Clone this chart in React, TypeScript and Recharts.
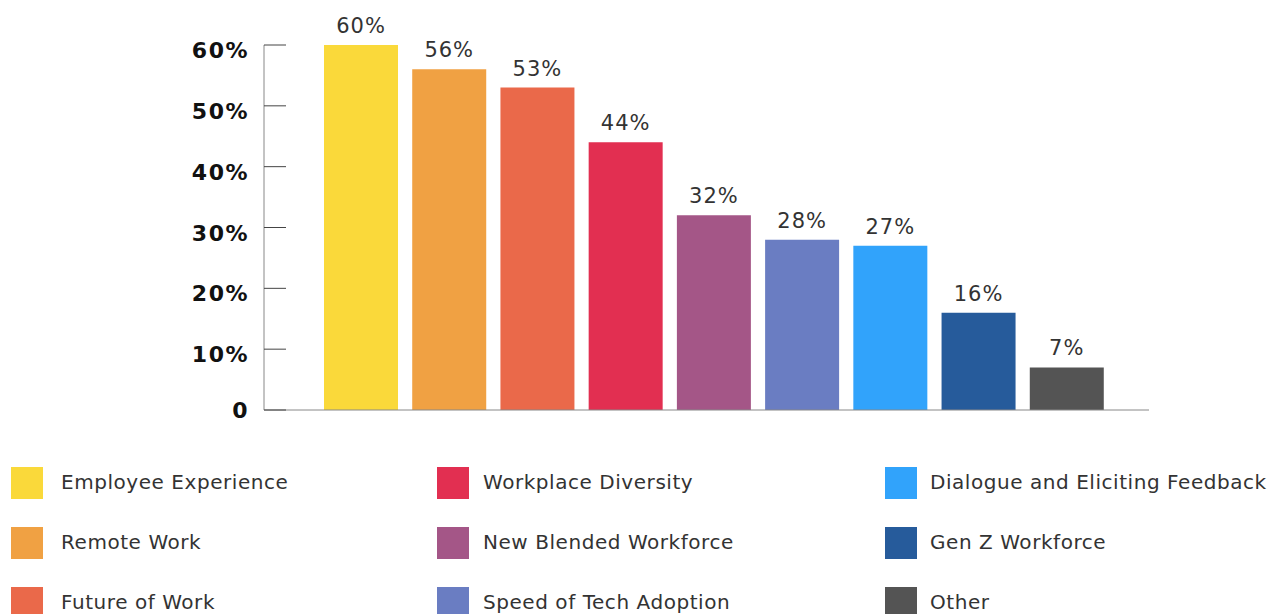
import { Bar, BarChart, Cell, LabelList, XAxis, YAxis } from 'recharts';

const categories = [
  'Employee Experience',
  'Remote Work',
  'Future of Work',
  'Workplace Diversity',
  'New Blended Workforce',
  'Speed of Tech Adoption',
  'Dialogue and Eliciting Feedback',
  'Gen Z Workforce',
  'Other',
];
const values = [60, 56, 53, 44, 32, 28, 27, 16, 7];
const colors = [
  '#FAD93A',
  '#F0A143',
  '#EA694A',
  '#E22F51',
  '#A45687',
  '#6A7DC2',
  '#31A3FB',
  '#265B9B',
  '#545454',
];
const yTicks = [0, 10, 20, 30, 40, 50, 60];
const yTickLabels = ['0', '10%', '20%', '30%', '40%', '50%', '60%'];

const data = categories.map((name, i) => ({ name, value: values[i] }));

const FONT = '"DejaVu Sans", sans-serif';

const YTick = (props: any) => {
  const { x, y, payload } = props;
  const idx = yTicks.indexOf(payload.value);
  return (
    <g>
      <line x1={x} x2={x + 22} y1={y} y2={y} stroke='#444' strokeWidth={1} />
      <text
        x={x - 15}
        y={y}
        dy={payload.value === 0 ? 8 : 13}
        textAnchor='end'
        fontFamily={FONT}
        fontWeight={700}
        fontSize={22}
        letterSpacing={1.5}
        fill='#111'
      >
        {yTickLabels[idx]}
      </text>
    </g>
  );
};

// legend laid out column by column, three rows each
const legendColumns = [
  { box: 11, text: 61, items: [0, 1, 2] },
  { box: 437, text: 483, items: [3, 4, 5] },
  { box: 885, text: 930, items: [6, 7, 8] },
];

export default function App() {
  return (
    <div
      style={{
        position: 'absolute',
        left: 0,
        top: 0,
        width: 1273,
        height: 614,
        background: '#fff',
        overflow: 'hidden',
      }}
    >
      <BarChart
        width={1273}
        height={440}
        data={data}
        margin={{ top: 45, right: 124, bottom: 0, left: 184 }}
      >
        <XAxis
          dataKey='name'
          height={30}
          tick={false}
          tickLine={false}
          axisLine={{ stroke: '#888' }}
          padding={{ left: 53, right: 38 }}
        />
        <YAxis
          width={80}
          domain={[0, 60]}
          ticks={yTicks}
          interval={0}
          tickSize={0}
          tickMargin={0}
          tickLine={false}
          axisLine={{ stroke: '#888' }}
          tick={<YTick />}
        />
        <Bar dataKey='value' barSize={74} isAnimationActive={false}>
          {data.map((d, i) => (
            <Cell key={d.name} fill={colors[i]} />
          ))}
          <LabelList
            dataKey='value'
            position='top'
            offset={12}
            formatter={(v: any) => `${v}%`}
            fill='#333'
            fontFamily={FONT}
            fontSize={21}
            letterSpacing={1}
          />
        </Bar>
      </BarChart>
      {legendColumns.map((col) =>
        col.items.map((idx, row) => (
          <div key={categories[idx]}>
            <div
              style={{
                position: 'absolute',
                left: col.box,
                top: 467 + row * 60,
                width: 32,
                height: 32,
                background: colors[idx],
              }}
            />
            <div
              style={{
                position: 'absolute',
                left: col.text,
                top: 467 + row * 60,
                height: 32,
                lineHeight: '30px',
                whiteSpace: 'nowrap',
                fontFamily: FONT,
                fontSize: 20,
                letterSpacing: 0.55,
                color: '#333',
              }}
            >
              {categories[idx]}
            </div>
          </div>
        ))
      )}
    </div>
  );
}
